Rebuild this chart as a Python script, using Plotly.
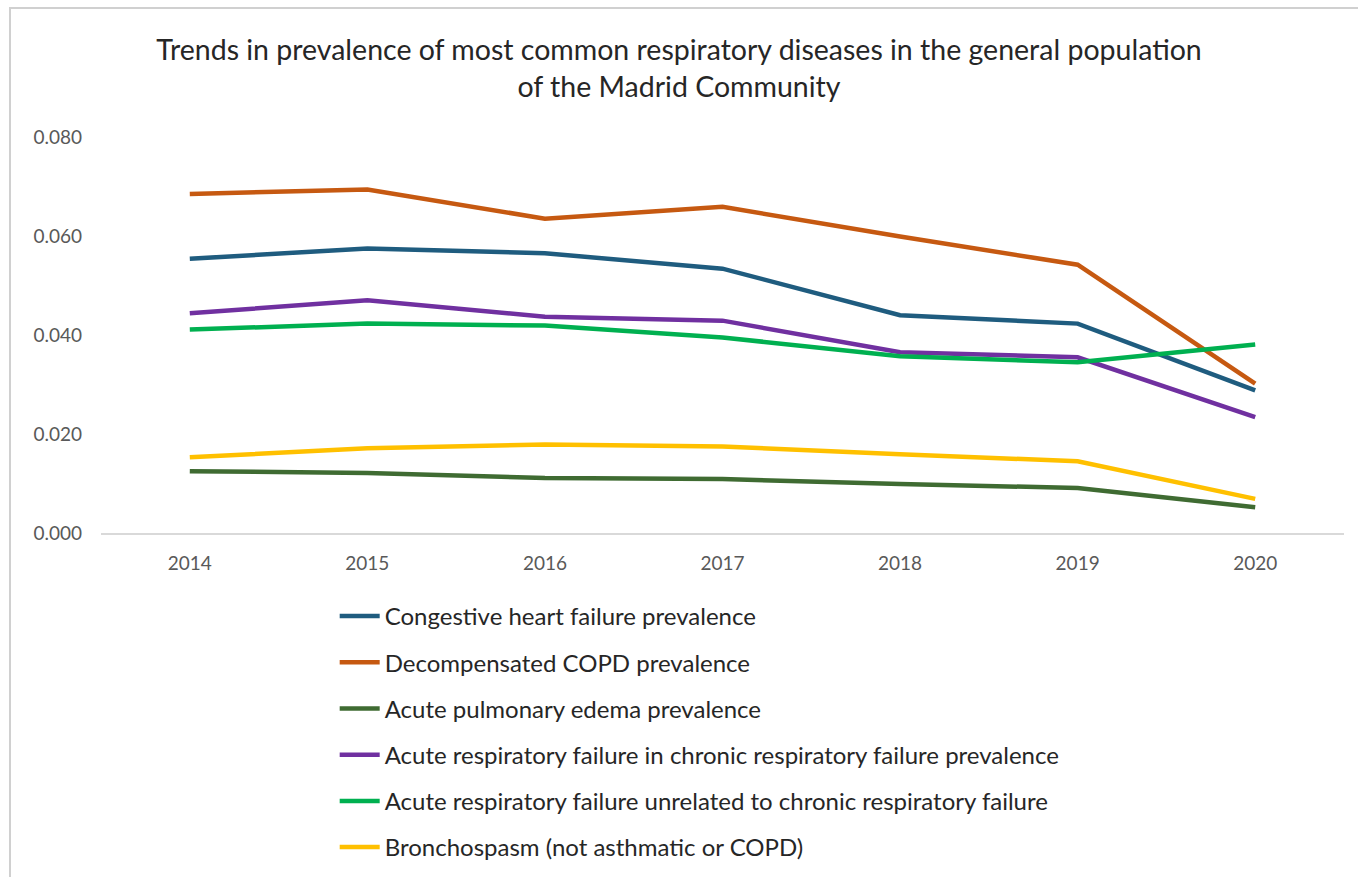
import plotly.graph_objects as go

years = ["2014", "2015", "2016", "2017", "2018", "2019", "2020"]

chf = [0.0554, 0.0575, 0.0565, 0.0534, 0.0440, 0.0423, 0.0288]
copd = [0.0685, 0.0694, 0.0635, 0.0659, 0.0599, 0.0542, 0.0302]
edema = [0.0125, 0.0121, 0.0111, 0.0109, 0.0099, 0.0091, 0.0052]
arf_chronic = [0.0444, 0.0470, 0.0437, 0.0429, 0.0365, 0.0355, 0.0234]
arf_unrelated = [0.0411, 0.0423, 0.0419, 0.0395, 0.0357, 0.0345, 0.0381]
bronchospasm = [0.0153, 0.0171, 0.0179, 0.0175, 0.0159, 0.0145, 0.0069]

series_names = [
    "Congestive heart failure prevalence",
    "Decompensated COPD prevalence",
    "Acute pulmonary edema prevalence",
    "Acute respiratory failure in chronic respiratory failure prevalence",
    "Acute respiratory failure unrelated to chronic respiratory failure",
    "Bronchospasm (not asthmatic or COPD)",
]
series_values = [chf, copd, edema, arf_chronic, arf_unrelated, bronchospasm]
colors = ["#1F5C7F", "#C65911", "#3F6B32", "#7030A0", "#00B050", "#FFC000"]

y_ticks = [0.0, 0.02, 0.04, 0.06, 0.08]

fig = go.Figure()
for i, (name, vals, col) in enumerate(zip(series_names, series_values, colors)):
    fig.add_trace(go.Scatter(
        x=years, y=vals, mode="lines", name=name,
        line=dict(color=col, width=4.5),
        legendgroup=f"g{i}",
    ))

FONT = "Lato, 'Open Sans', sans-serif"

fig.update_layout(
    width=1358, height=877,
    paper_bgcolor="white", plot_bgcolor="white",
    margin=dict(l=101, r=14, t=137, b=344, autoexpand=False),
    title=dict(
        text="Trends in prevalence of most common respiratory diseases in the general population<br>of the Madrid Community",
        x=0.5, xanchor="center", y=0.932, yanchor="top",
        font=dict(family=FONT, size=28.5, color="#262626"),
    ),
    font=dict(family=FONT, color="#595959"),
    xaxis=dict(
        type="category", range=[-0.5, 6.5], automargin=False,
        showgrid=False, showline=True, linecolor="#D9D9D9", linewidth=1.5,
        ticks="", tickfont=dict(size=19, color="#595959"),
        ticklabelstandoff=12,
    ),
    yaxis=dict(
        range=[0, 0.08], tickvals=y_ticks, tickformat=".3f", automargin=False,
        showgrid=False, zeroline=False, showline=False,
        ticks="", tickfont=dict(size=19, color="#595959"),
        ticklabelstandoff=18,
    ),
    legend=dict(
        orientation="v", x=0.188, xanchor="left", y=-0.154, yanchor="top",
        font=dict(family=FONT, size=24, color="#262626"),
        tracegroupgap=12, itemwidth=40,
        bgcolor="rgba(0,0,0,0)",
    ),
    showlegend=True,
    shapes=[dict(
        type="rect", xref="paper", yref="paper",
        x0=(10 - 101) / 1243, x1=1.1, y0=-1.5, y1=(533 - 8) / 396,
        line=dict(color="#D0D0D0", width=2), fillcolor="rgba(0,0,0,0)",
        layer="below",
    )],
)

fig.write_html("out.html")
